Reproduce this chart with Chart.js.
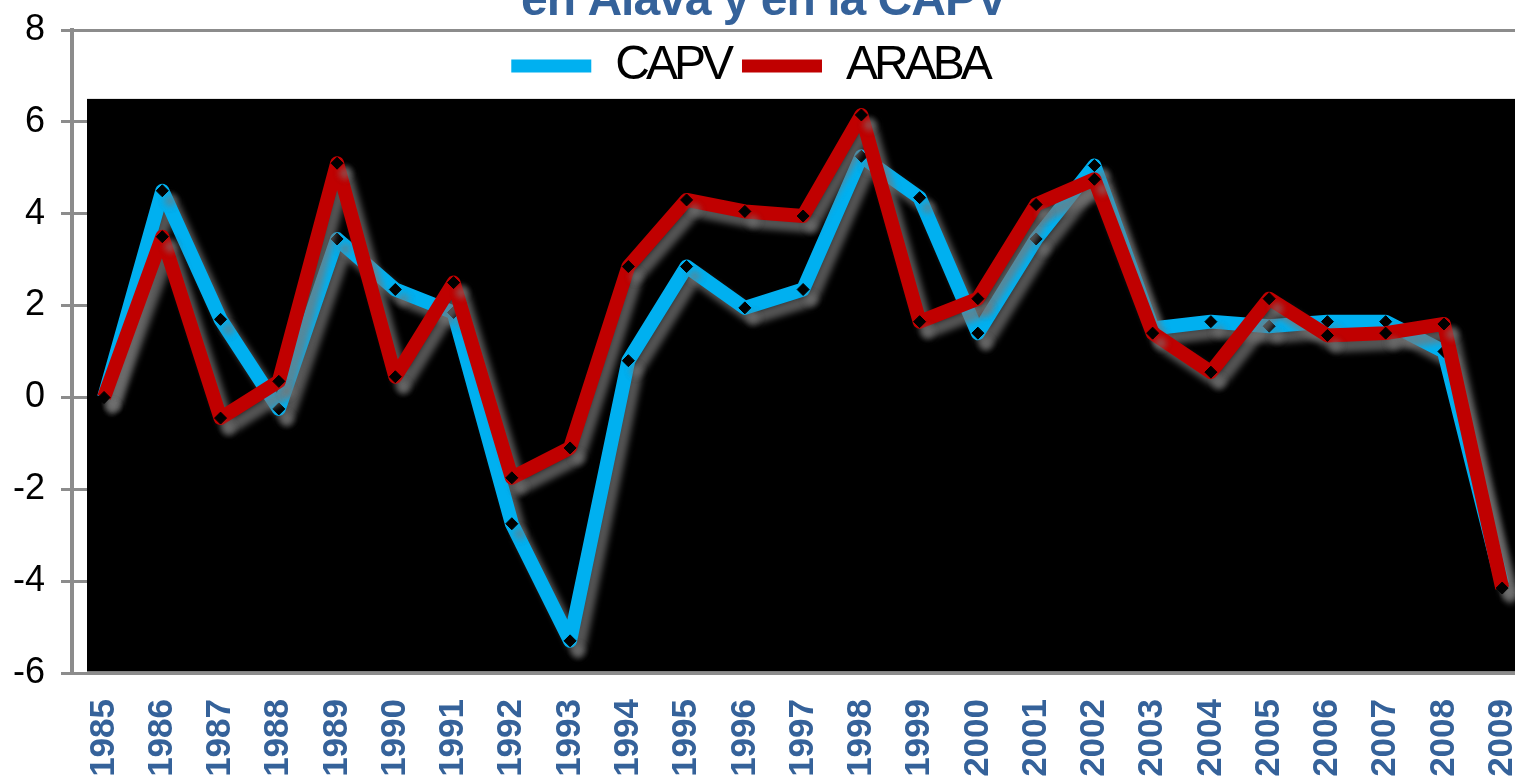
<!DOCTYPE html>
<html>
<head>
<meta charset="utf-8">
<script src="https://cdn.jsdelivr.net/npm/chart.js@4"></script>
<style>
  html, body { margin: 0; padding: 0; background: #fff; overflow: hidden; }
  canvas { display: block; }
</style>
</head>
<body>
<canvas id="chart" width="1515" height="783"></canvas>
<script>
// datos
const years = [1985, 1986, 1987, 1988, 1989, 1990, 1991, 1992, 1993, 1994, 1995, 1996,
  1997, 1998, 1999, 2000, 2001, 2002, 2003, 2004, 2005, 2006, 2007, 2008, 2009];
const capv = [0.0, 4.5, 1.7, -0.25, 3.45, 2.35, 1.85, -2.75, -5.3, 0.8, 2.85, 1.95,
  2.35, 5.25, 4.35, 1.4, 3.45, 5.05, 1.5, 1.65, 1.55, 1.65, 1.65, 1.0, -4.05];
const araba = [0.0, 3.5, -0.45, 0.35, 5.1, 0.45, 2.5, -1.75, -1.1, 2.85, 4.3, 4.05,
  3.95, 6.15, 1.65, 2.15, 4.2, 4.75, 1.4, 0.55, 2.15, 1.35, 1.4, 1.6, -4.15];
const yTicks = [-6, -4, -2, 0, 2, 4, 6, 8];
const titleText = 'en Álava y en la CAPV';

const gray = '#8c8c8c';
const blue = '#00b0f0';
const red = '#c00000';

function toPoints(vals) {
  return years.map((y, i) => ({ x: y, y: vals[i] }));
}

// fondo negro del area de trazado + sombra de las lineas
const plotBox = {
  id: 'plotBox',
  beforeDatasetsDraw(chart) {
    const { ctx, chartArea, scales } = chart;
    const top = scales.y.getPixelForValue(6.5);
    ctx.save();
    ctx.fillStyle = '#000';
    ctx.fillRect(chartArea.left + 15, top, chartArea.right - chartArea.left - 15, chartArea.bottom - 1.5 - top);
    ctx.restore();
    ctx.save();
    ctx.shadowColor = 'rgba(120,120,120,0.7)';
    ctx.shadowOffsetX = 8;
    ctx.shadowOffsetY = 10;
    ctx.shadowBlur = 6;
  },
  afterDatasetsDraw(chart) {
    chart.ctx.restore();
  }
};

// titulo cortado arriba
const topTitle = {
  id: 'topTitle',
  afterDraw(chart) {
    const ctx = chart.ctx;
    ctx.save();
    ctx.fillStyle = '#35629a';
    ctx.font = 'bold 48px "Liberation Sans", Arial';
    ctx.letterSpacing = '-1px';
    ctx.textAlign = 'center';
    ctx.textBaseline = 'alphabetic';
    ctx.fillText(titleText, 764, 15);
    ctx.restore();
  }
};

// leyenda horizontal dentro del area, letra apretada
function tight(fn) {
  return function (...args) {
    const ctx = this.ctx;
    ctx.save();
    ctx.letterSpacing = '-4px';
    const r = fn.apply(this, args);
    ctx.restore();
    return r;
  };
}
const legendFix = {
  id: 'legendFix',
  beforeLayout(chart) {
    const lg = chart.legend;
    if (lg && !lg._patched) {
      lg.isHorizontal = () => true;
      lg.fit = tight(lg.fit);
      lg.draw = tight(lg.draw);
      lg._patched = true;
    }
  },
  afterLayout(chart) {
    const lg = chart.legend;
    const shift = 750 - (lg.left + lg.right) / 2;
    lg.left += shift;
    lg.right += shift;
  }
};

new Chart(document.getElementById('chart'), {
  type: 'line',
  data: {
    datasets: [
      {
        label: 'CAPV',
        data: toPoints(capv),
        borderColor: blue,
        backgroundColor: blue,
        borderWidth: 14,
        borderJoinStyle: 'round',
        pointStyle: 'rectRot',
        pointRadius: 6,
        pointBackgroundColor: '#000',
        pointBorderColor: '#000',
        pointBorderWidth: 1,
        tension: 0,
        order: 1,
      },
      {
        label: 'ARABA',
        data: toPoints(araba),
        borderColor: red,
        backgroundColor: red,
        borderWidth: 14,
        borderJoinStyle: 'round',
        pointStyle: 'rectRot',
        pointRadius: 6,
        pointBackgroundColor: '#000',
        pointBorderColor: '#000',
        pointBorderWidth: 1,
        tension: 0,
        order: 0,
      },
    ],
  },
  options: {
    responsive: false,
    animation: false,
    layout: { autoPadding: false, padding: { top: 30, left: 14, right: 0, bottom: 0 } },
    plugins: {
      title: { display: false },
      tooltip: { enabled: false },
      legend: {
        position: 'chartArea',
        align: 'center',
        labels: {
          color: '#000',
          font: { family: '"Liberation Sans", Arial', size: 48 },
          boxWidth: 80,
          boxHeight: 13,
          padding: 12,
          sort: (a, b) => a.datasetIndex - b.datasetIndex,
          generateLabels(chart) {
            const items = Chart.defaults.plugins.legend.labels.generateLabels(chart);
            items.forEach((it) => { it.lineWidth = 0; });
            return items;
          },
        },
      },
    },
    scales: {
      x: {
        type: 'linear',
        min: 1984.45,
        max: 2009.22,
        afterBuildTicks(scale) {
          scale.ticks = years.map((v) => ({ value: v }));
        },
        afterFit(scale) {
          scale.paddingLeft = 0;
          scale.paddingRight = 0;
          scale.height = 110;
        },
        grid: { display: false, drawTicks: false },
        border: { display: false },
        ticks: {
          autoSkip: false,
          minRotation: 90,
          maxRotation: 90,
          padding: 26,
          color: '#35629a',
          font: { family: '"Liberation Sans", Arial', size: 35, weight: 'bold' },
          callback: (v) => String(v),
        },
      },
      y: {
        min: -6,
        max: 8,
        afterBuildTicks(scale) {
          scale.ticks = yTicks.map((v) => ({ value: v }));
        },
        afterFit(scale) {
          scale.width = 58;
          scale.paddingTop = 0;
          scale.paddingBottom = 0;
        },
        grid: { color: gray, lineWidth: 3, tickLength: 11 },
        border: { color: gray, width: 4 },
        ticks: {
          color: '#000',
          padding: 16,
          font: { family: '"Liberation Sans", Arial', size: 36 },
        },
      },
    },
  },
  plugins: [plotBox, topTitle, legendFix],
});
</script>
</body>
</html>
